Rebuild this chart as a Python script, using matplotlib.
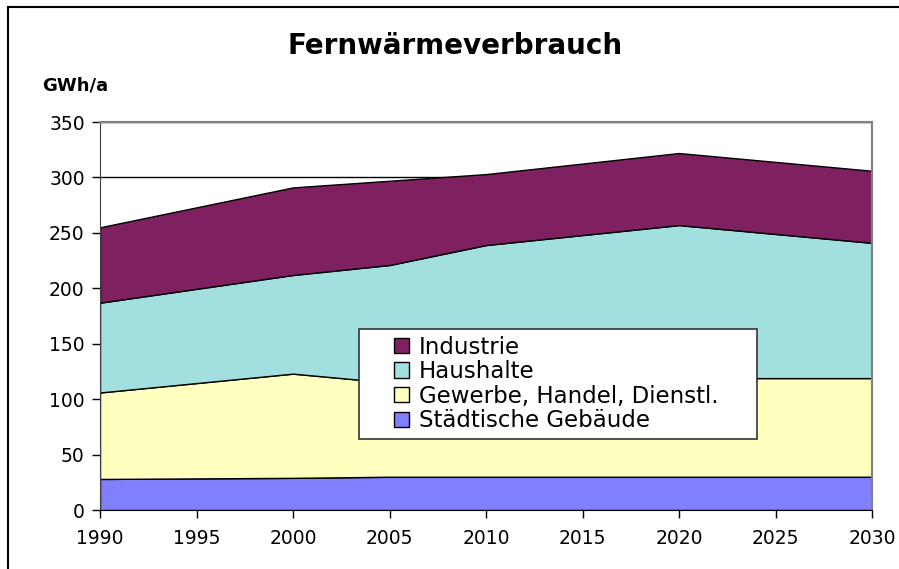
import matplotlib
matplotlib.use("Agg")
import matplotlib.pyplot as plt
from matplotlib.lines import Line2D
from matplotlib.patches import Rectangle

years = [1990, 2000, 2005, 2010, 2020, 2030]
staedtische = [28, 29, 30, 30, 30, 30]
gewerbe = [78, 94, 85, 88, 89, 89]
haushalte = [81, 89, 106, 121, 138, 122]
industrie = [68, 79, 76, 64, 65, 65]

labels = ["Städtische Gebäude", "Gewerbe, Handel, Dienstl.", "Haushalte", "Industrie"]
colors = ["#8080FF", "#FFFFC0", "#A2DFDF", "#7F2060"]
xticks = [1990, 1995, 2000, 2005, 2010, 2015, 2020, 2025, 2030]
yticks = [0, 50, 100, 150, 200, 250, 300, 350]

plt.rcParams['font.family'] = ['DejaVu Sans']

W, H = 899, 569
fig = plt.figure(figsize=(W / 100, H / 100), dpi=100)
ax = fig.add_axes([100 / W, 1 - 510 / H, (872 - 100) / W, (510 - 122) / H])

ax.stackplot(years, staedtische, gewerbe, haushalte, industrie,
             colors=colors, edgecolor="black", linewidth=1.0, labels=labels, zorder=2)

ax.set_xlim(1990, 2030)
ax.set_ylim(0, 350)
ax.set_xticks(xticks)
ax.set_yticks(yticks)
ax.yaxis.grid(True, color="black", linewidth=1.0, zorder=0)
ax.set_axisbelow(True)
ax.tick_params(axis="both", direction="out", length=6, width=1, labelsize=13.5, colors="black", pad=5)
ax.tick_params(axis="x", pad=8)
for s in ["top", "right"]:
    ax.spines[s].set_color("#808080")
    ax.spines[s].set_linewidth(1.5)
ax.spines["left"].set_color("#404040")
ax.spines["bottom"].set_color("black")

# legend box
fig.add_artist(Rectangle((359 / W, 1 - 439 / H), (757 - 359) / W, (439 - 329) / H,
                         transform=fig.transFigure, facecolor="white", edgecolor="#333333",
                         linewidth=1.2, zorder=5))
handles, labs = ax.get_legend_handles_labels()
leg = fig.legend(handles[::-1], labs[::-1], loc="center left",
                 bbox_to_anchor=(394 / W, 1 - 384 / H), bbox_transform=fig.transFigure,
                 fontsize=16.5, frameon=False, borderaxespad=0, borderpad=0,
                 handlelength=0.66, handleheight=0.66, handletextpad=0.42,
                 labelspacing=0.07)
leg.set_zorder(6)

fig.text(455 / W, 1 - 46 / H, "Fernwärmeverbrauch", ha="center", va="center",
         fontsize=20, fontweight="bold")
fig.text(42 / W, 1 - 85 / H, "GWh/a", ha="left", va="center", fontsize=13, fontweight="bold")

fig.add_artist(Line2D([8 / W, 8 / W], [0, 1 - 7 / H], color="black", linewidth=1.5,
                      transform=fig.transFigure))
fig.add_artist(Line2D([8 / W, 1.01], [1 - 7 / H, 1 - 7 / H], color="black", linewidth=1.5,
                      transform=fig.transFigure))

fig.savefig("out.png", dpi=100)
